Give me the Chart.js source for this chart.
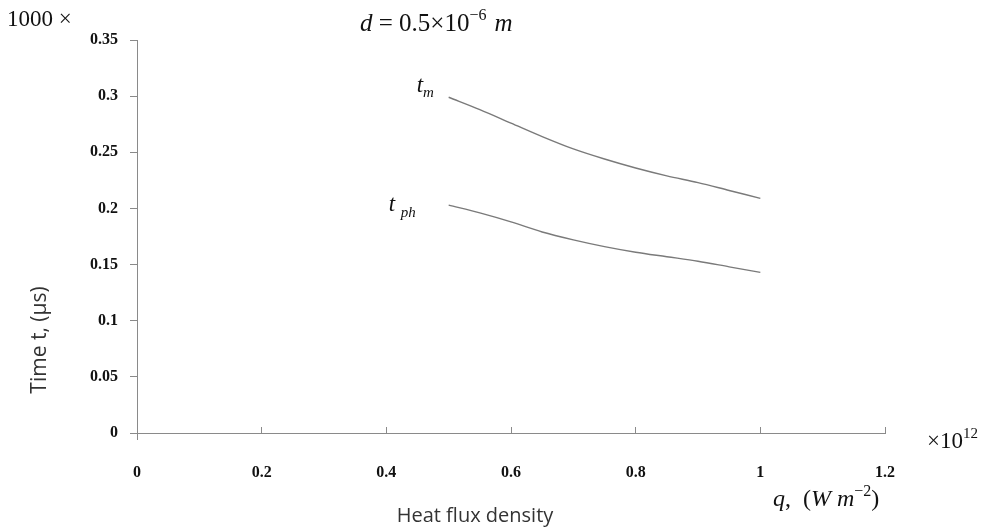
<!DOCTYPE html>
<html>
<head>
<meta charset="utf-8">
<script src="https://cdn.jsdelivr.net/npm/chart.js@4.4.1/dist/chart.umd.min.js"></script>
<style>
  html, body { margin: 0; padding: 0; background: #fff; }
  #wrap { width: 988px; height: 529px; position: relative; }
</style>
</head>
<body>
<div id="wrap"><canvas id="chart"></canvas></div>
<script>
// values (x in units of 10^12 W m^-2, y in 1000 x us)
const fluxValues = [0.5, 0.55, 0.6, 0.65, 0.7, 0.75, 0.8, 0.85, 0.9, 0.95, 1.0];
const tmValues   = [0.299, 0.288, 0.276, 0.264, 0.253, 0.244, 0.236, 0.229, 0.223, 0.216, 0.209];
const tphValues  = [0.203, 0.196, 0.188, 0.179, 0.172, 0.166, 0.161, 0.157, 0.153, 0.148, 0.143];
const xTicks = [0, 0.2, 0.4, 0.6, 0.8, 1, 1.2];
const yTicks = [0, 0.05, 0.1, 0.15, 0.2, 0.25, 0.3, 0.35];

const AXIS = '#8a8a8a';
const LINE = '#7a7a7a';
const SERIF = '"Liberation Serif", "Times New Roman", serif';
const SANS = '"Open Sans", "Noto Sans", sans-serif';

const toPoints = (ys) => fluxValues.map((x, i) => ({ x, y: ys[i] }));

// draw a run of [text, font, dy] pieces left to right
function run(ctx, x, y, pieces) {
  for (const [text, font, dy] of pieces) {
    ctx.font = font;
    ctx.fillText(text, x, y + (dy || 0));
    x += ctx.measureText(text).width;
  }
}

// text that sits around the plot (labels, multipliers, units)
const annotations = {
  id: 'annotations',
  afterDraw(chart) {
    const { ctx, scales: { x, y } } = chart;
    ctx.save();
    ctx.fillStyle = '#111';
    ctx.textBaseline = 'alphabetic';
    ctx.textAlign = 'left';

    // y axis stub below origin
    ctx.strokeStyle = AXIS;
    ctx.lineWidth = 1;
    ctx.beginPath();
    ctx.moveTo(x.getPixelForValue(0) + 0.5, y.getPixelForValue(0));
    ctx.lineTo(x.getPixelForValue(0) + 0.5, y.getPixelForValue(0) + 7);
    ctx.stroke();

    // 1000 x
    run(ctx, 7, 26, [['1000 \u00d7', '23px ' + SERIF]]);

    // title d = 0.5x10^-6 m
    run(ctx, 360, 31, [
      ['d', 'italic 25px ' + SERIF],
      [' = 0.5\u00d710', '25px ' + SERIF],
      ['\u22126', '16px ' + SERIF, -11],
      ['  ', '16px ' + SERIF],
      ['m', 'italic 25px ' + SERIF],
    ]);

    // curve labels next to the first point of each curve
    const px = x.getPixelForValue(fluxValues[0]);
    const ym = y.getPixelForValue(tmValues[0]);
    const yp = y.getPixelForValue(tphValues[0]);
    run(ctx, px - 32, ym - 5, [['t', 'italic 23px ' + SERIF], ['m', 'italic 15px ' + SERIF, 5]]);
    run(ctx, px - 60, yp + 6, [['t ', 'italic 23px ' + SERIF], ['ph', 'italic 15px ' + SERIF, 6]]);

    // x10^12
    run(ctx, 927, 448, [['\u00d710', '23px ' + SERIF], ['12', '15px ' + SERIF, -10]]);

    // q, (W m^-2)
    run(ctx, 773, 506, [
      ['q', 'italic 24px ' + SERIF],
      [',  (', '24px ' + SERIF],
      ['W m', 'italic 24px ' + SERIF],
      ['\u22122', '16px ' + SERIF, -10],
      [')', '24px ' + SERIF],
    ]);

    // axis titles
    ctx.fillStyle = '#333';
    ctx.font = '20px ' + SANS;
    ctx.textAlign = 'center';
    ctx.textBaseline = 'middle';
    ctx.fillText('Heat flux density', 475, 516);
    ctx.translate(40, 340);
    ctx.rotate(-Math.PI / 2);
    ctx.font = '21px ' + SANS;
    ctx.fillText('Time t, (\u00b5s)', 0, 0);
    ctx.restore();
  }
};

new Chart(document.getElementById('chart'), {
  type: 'line',
  data: {
    datasets: [
      { label: 't_m',  data: toPoints(tmValues),  borderColor: LINE, borderWidth: 1.4, pointRadius: 0, cubicInterpolationMode: 'monotone', fill: false },
      { label: 't_ph', data: toPoints(tphValues), borderColor: LINE, borderWidth: 1.4, pointRadius: 0, cubicInterpolationMode: 'monotone', fill: false },
    ],
  },
  options: {
    animation: false,
    responsive: true,
    maintainAspectRatio: false,
    devicePixelRatio: 1,
    layout: { padding: { left: 0, right: 103, top: 40, bottom: 36 } },
    plugins: { legend: { display: false }, tooltip: { enabled: false } },
    scales: {
      x: {
        type: 'linear',
        min: 0, max: 1.2,
        afterBuildTicks: (axis) => { axis.ticks = xTicks.map((v) => ({ value: v })); },
        afterFit: (axis) => { axis.height = 60; },
        grid: { drawOnChartArea: false, drawTicks: true, tickLength: -6, color: AXIS },
        border: { color: AXIS, width: 1 },
        ticks: { color: '#111', padding: 36, callback: (v) => String(v), font: { family: SERIF, size: 16, weight: 'bold' } },
      },
      y: {
        min: 0, max: 0.35,
        afterBuildTicks: (axis) => { axis.ticks = yTicks.map((v) => ({ value: v })); },
        afterFit: (axis) => { axis.width = 137; },
        grid: { drawOnChartArea: false, drawTicks: true, tickLength: 7, color: AXIS },
        border: { color: AXIS, width: 1 },
        ticks: { color: '#111', padding: 12, callback: (v) => String(v), font: { family: SERIF, size: 16, weight: 'bold' } },
      },
    },
  },
  plugins: [annotations],
});
</script>
</body>
</html>
